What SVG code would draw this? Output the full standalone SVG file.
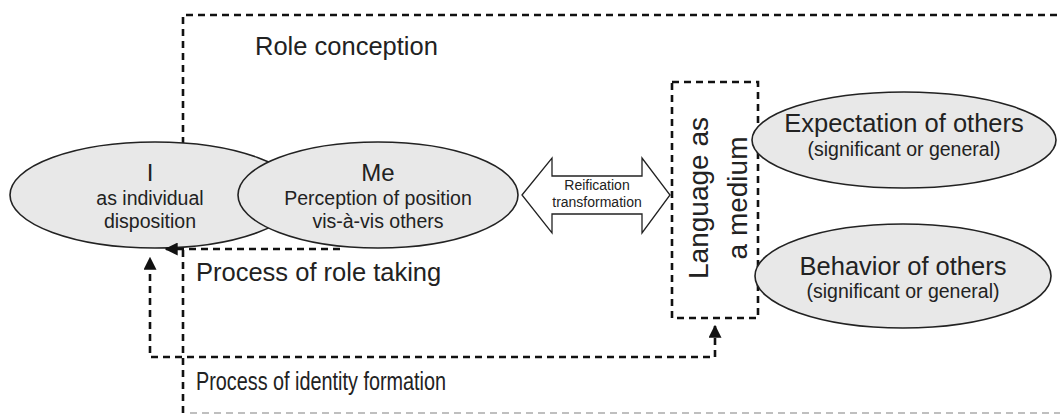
<svg xmlns="http://www.w3.org/2000/svg" width="1060" height="417" viewBox="0 0 1060 417">
<style>
text{font-family:"Liberation Sans",Arial,sans-serif;fill:#222;}
.ell{fill:#e8e8e8;stroke:#222;stroke-width:1.6;}
.dash{fill:none;stroke:#111;stroke-width:2.6;stroke-dasharray:7,5;}
.faint{fill:none;stroke:#aaa;stroke-width:1.5;stroke-dasharray:7,5;}
.big{font-size:25.5px;}
.title{font-size:24px;}
.mid{font-size:19.5px;}
.small{font-size:14px;}
</style>
<defs>
<marker id="ah" viewBox="0 0 10 10" refX="9" refY="5" markerWidth="5" markerHeight="5" orient="auto-start-reverse" markerUnits="strokeWidth">
<path d="M0,0 L10,5 L0,10 Z" fill="#111"/>
</marker>
</defs>
<rect width="1060" height="417" fill="#fff"/>
<g id="frame">
<path class="dash" d="M183,144 L183,15 L1062,15"/>
<path class="dash" d="M183,250 L183,413"/>
<path class="faint" d="M190,413 L1062,413"/>
<text class="big" x="255" y="55">Role conception</text>
</g>
<g id="node-I">
<ellipse class="ell" cx="155" cy="195" rx="145" ry="53"/>
<text class="title" x="150" y="181" text-anchor="middle">I</text>
<text class="mid" x="150" y="205" text-anchor="middle">as individual</text>
<text class="mid" x="150" y="228" text-anchor="middle">disposition</text>
</g>
<g id="node-Me">
<ellipse class="ell" cx="378" cy="195" rx="140" ry="53"/>
<text class="title" x="378" y="181" text-anchor="middle">Me</text>
<text class="mid" x="378" y="205" text-anchor="middle">Perception of position</text>
<text class="mid" x="378" y="228" text-anchor="middle">vis-à-vis others</text>
</g>
<g id="node-reification">
<path d="M522,195 L552,158 L552,176 L642,176 L642,158 L670,195 L642,233 L642,214 L552,214 L552,233 Z" fill="#fff" stroke="#222" stroke-width="1.3"/>
<text class="small" x="597" y="190" text-anchor="middle">Reification</text>
<text class="small" x="597" y="207" text-anchor="middle">transformation</text>
</g>
<g id="node-language">
<rect class="dash" x="672" y="82" width="86" height="236"/>
<text font-size="28" transform="translate(708,198) rotate(-90)" text-anchor="middle">Language as</text>
<text font-size="28" transform="translate(747,198) rotate(-90)" text-anchor="middle">a medium</text>
</g>
<g id="node-expectation">
<ellipse class="ell" cx="904" cy="140" rx="152" ry="48"/>
<text class="big" x="904" y="132" text-anchor="middle">Expectation of others</text>
<text class="mid" x="904" y="156" text-anchor="middle">(significant or general)</text>
</g>
<g id="node-behavior">
<ellipse class="ell" cx="903" cy="276" rx="148" ry="52"/>
<text class="big" x="903" y="275" text-anchor="middle">Behavior of others</text>
<text class="mid" x="903" y="298" text-anchor="middle">(significant or general)</text>
</g>
<g id="connectors">
<path class="dash" d="M340,249 L166,249" marker-end="url(#ah)"/>
<path class="dash" d="M715,326 L715,357 L150,357 L150,258" marker-start="url(#ah)" marker-end="url(#ah)"/>
</g>
<g id="labels">
<text class="big" x="196" y="281">Process of role taking</text>
<text class="big" x="196" y="390" textLength="250" lengthAdjust="spacingAndGlyphs">Process of identity formation</text>
</g>
</svg>
